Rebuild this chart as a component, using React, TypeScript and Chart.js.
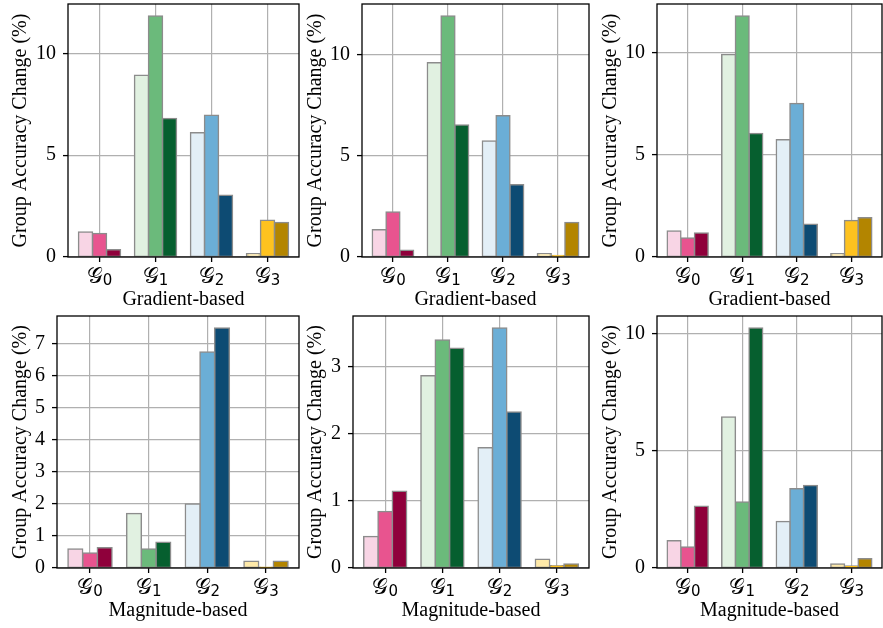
import React, { useEffect, useRef } from "react";
import { Chart, registerables } from "chart.js";

Chart.register(...registerables);

// ---- Data ----
const groupSymbol = "𝒢";
const groupSubscripts = ["0", "1", "2", "3"];
const groupPositions = [0, 1, 2, 3];

// colours per group: [light, mid, dark]
const group0Colors = ["#f8d5e5", "#e8548f", "#8f003b"];
const group1Colors = ["#e1f1e1", "#6bba7b", "#065f2f"];
const group2Colors = ["#e3eff7", "#6baed6", "#0d4b73"];
const group3Colors = ["#fee9a8", "#fec21f", "#b38500"];

// Panel 1 (top-left, Gradient-based)
const p1Light = [1.23, 8.93, 6.1, 0.16];
const p1Mid = [1.15, 11.84, 6.97, 1.8];
const p1Dark = [0.36, 6.8, 3.03, 1.7];
// Panel 2 (top-middle, Gradient-based)
const p2Light = [1.35, 9.59, 5.73, 0.16];
const p2Mid = [2.22, 11.9, 6.97, 0.08];
const p2Dark = [0.33, 6.52, 3.57, 1.71];
// Panel 3 (top-right, Gradient-based)
const p3Light = [1.27, 9.9, 5.73, 0.16];
const p3Mid = [0.93, 11.78, 7.5, 1.79];
const p3Dark = [1.17, 6.04, 1.6, 1.92];
// Panel 4 (bottom-left, Magnitude-based)
const p4Light = [0.59, 1.7, 2.0, 0.21];
const p4Mid = [0.47, 0.59, 6.74, 0.02];
const p4Dark = [0.63, 0.8, 7.49, 0.21];
// Panel 5 (bottom-middle, Magnitude-based)
const p5Light = [0.47, 2.86, 1.79, 0.13];
const p5Mid = [0.84, 3.39, 3.57, 0.035];
const p5Dark = [1.14, 3.27, 2.32, 0.06];
// Panel 6 (bottom-right, Magnitude-based)
const p6Light = [1.17, 6.45, 1.99, 0.17];
const p6Mid = [0.9, 2.82, 3.39, 0.09];
const p6Dark = [2.64, 10.26, 3.53, 0.4];

const ticksTens = [0, 5, 10];
const ticksSeven = [0, 1, 2, 3, 4, 5, 6, 7];
const ticksThree = [0, 1, 2, 3];

const yTitle = "Group Accuracy Change (%)";
const xTitleTop = "Gradient-based";
const xTitleBottom = "Magnitude-based";

// ---- Layout (positions/sizes) ----
type Panel = {
  series: number[][];
  yTicks: number[];
  xTitle: string;
  L: number; R: number; T: number; B: number; yW: number;
};

const panels: Panel[] = [
  { series: [p1Light, p1Mid, p1Dark], yTicks: ticksTens, xTitle: xTitleTop, L: 68, R: 299, T: 4, B: 257, yW: 59 },
  { series: [p2Light, p2Mid, p2Dark], yTicks: ticksTens, xTitle: xTitleTop, L: 362, R: 589, T: 4, B: 257, yW: 58 },
  { series: [p3Light, p3Mid, p3Dark], yTicks: ticksTens, xTitle: xTitleTop, L: 657, R: 882, T: 4, B: 257, yW: 58 },
  { series: [p4Light, p4Mid, p4Dark], yTicks: ticksSeven, xTitle: xTitleBottom, L: 57, R: 299, T: 316, B: 568, yW: 48 },
  { series: [p5Light, p5Mid, p5Dark], yTicks: ticksThree, xTitle: xTitleBottom, L: 353, R: 589, T: 316, B: 568, yW: 49 },
  { series: [p6Light, p6Mid, p6Dark], yTicks: ticksTens, xTitle: xTitleBottom, L: 657, R: 882, T: 316, B: 568, yW: 58 },
];

const PAD_TOP = 4;
const PAD_RIGHT = 2;
const X_AXIS_H = 55;

const serif = "'Liberation Serif', 'Times New Roman', serif";

const framePlugin = {
  id: "frame",
  afterDraw(chart: any) {
    const { ctx, chartArea } = chart;
    const { left, top, right, bottom } = chartArea;
    ctx.save();
    ctx.strokeStyle = "#000000";
    ctx.lineWidth = 1.3;
    ctx.strokeRect(left, top, right - left, bottom - top);
    ctx.restore();
  },
};

// Draws the x tick labels as a script G with a sans-serif subscript (mathtext style)
const groupLabelPlugin = {
  id: "groupLabels",
  afterDraw(chart: any) {
    const { ctx, chartArea } = chart;
    const xScale = chart.scales.x;
    ctx.save();
    ctx.fillStyle = "#000";
    ctx.textBaseline = "alphabetic";
    ctx.textAlign = "left";
    const gFont = `22px ${serif}`;
    const dFont = "15px 'DejaVu Sans'";
    groupPositions.forEach((v, i) => {
      const x = xScale.getPixelForValue(v);
      ctx.font = gFont;
      const wG = ctx.measureText(groupSymbol).width;
      ctx.font = dFont;
      const wD = ctx.measureText(groupSubscripts[i]).width;
      const start = x - (wG + wD) / 2;
      ctx.font = gFont;
      ctx.fillText(groupSymbol, start, chartArea.bottom + 26);
      ctx.font = dFont;
      ctx.fillText(groupSubscripts[i], start + wG, chartArea.bottom + 28);
    });
    ctx.restore();
  },
};

function zeroPadding(scale: any) {
  scale.paddingLeft = 0;
  scale.paddingRight = 0;
  scale.paddingTop = 0;
  scale.paddingBottom = 0;
}

function PanelChart({ p }: { p: Panel }) {
  const ref = useRef<HTMLCanvasElement | null>(null);
  const cw = p.R + PAD_RIGHT - (p.L - p.yW);
  const ch = p.B + X_AXIS_H - (p.T - PAD_TOP);

  useEffect(() => {
    if (!ref.current) return;
    const colorsByShade = [0, 1, 2].map((j) => [group0Colors[j], group1Colors[j], group2Colors[j], group3Colors[j]]);
    const allVals = p.series.flat();
    const yMax = Math.max(...allVals) * 1.05;
    const chart = new Chart(ref.current, {
      type: "bar",
      data: {
        datasets: p.series.map((vals, j) => ({
          data: vals.map((v, i) => ({ x: groupPositions[i], y: v })),
          backgroundColor: colorsByShade[j],
          borderColor: "#8c8c8c",
          borderWidth: 1.5,
          borderSkipped: false,
          inflateAmount: 0.75,
          categoryPercentage: 0.75,
          barPercentage: 1.0,
        })),
      },
      options: {
        responsive: false,
        animation: false,
        layout: { padding: { top: PAD_TOP, right: PAD_RIGHT, left: 0, bottom: 0 } },
        plugins: { legend: { display: false }, tooltip: { enabled: false } },
        scales: {
          x: {
            type: "linear",
            offset: false,
            bounds: "data",
            min: -0.5625,
            max: 3.5625,
            afterBuildTicks: (scale: any) => {
              scale.ticks = groupPositions.map((v) => ({ value: v }));
            },
            afterFit: (scale: any) => {
              scale.height = X_AXIS_H;
              zeroPadding(scale);
            },
            ticks: {
              display: false,
              maxRotation: 0,
              autoSkip: false,
            },
            grid: {
              offset: false,
              color: "#b0b0b0",
              lineWidth: 1.2,
              tickLength: 5,
              tickColor: "#000",
              tickWidth: 1.3,
            },
            border: { display: false },
            title: {
              display: true,
              text: p.xTitle,
              font: { family: serif, size: 20 },
              color: "#000",
              padding: { top: 0, bottom: 0 },
            },
          },
          y: {
            min: 0,
            max: yMax,
            afterBuildTicks: (scale: any) => {
              scale.ticks = p.yTicks.map((v) => ({ value: v }));
            },
            afterFit: (scale: any) => {
              scale.width = p.yW;
              zeroPadding(scale);
            },
            ticks: {
              font: { family: serif, size: 20 },
              color: "#000",
              padding: 7,
            },
            grid: {
              color: "#b0b0b0",
              lineWidth: 1.2,
              tickLength: 5,
              tickColor: "#000",
              tickWidth: 1.3,
            },
            border: { display: false },
            title: {
              display: true,
              text: yTitle,
              font: { family: serif, size: 20 },
              color: "#000",
              padding: { top: 0, bottom: 0 },
            },
          },
        },
      },
      plugins: [framePlugin, groupLabelPlugin],
    } as any);
    return () => chart.destroy();
  }, [p]);

  return (
    <canvas
      ref={ref}
      width={cw}
      height={ch}
      style={{
        position: "absolute",
        left: p.L - p.yW,
        top: p.T - PAD_TOP,
        width: cw,
        height: ch,
      }}
    />
  );
}

export default function App() {
  return (
    <div
      style={{
        position: "absolute",
        left: 0,
        top: 0,
        width: 883,
        height: 628,
        background: "#ffffff",
        overflow: "hidden",
      }}
    >
      {panels.map((p, i) => (
        <PanelChart key={i} p={p} />
      ))}
    </div>
  );
}
